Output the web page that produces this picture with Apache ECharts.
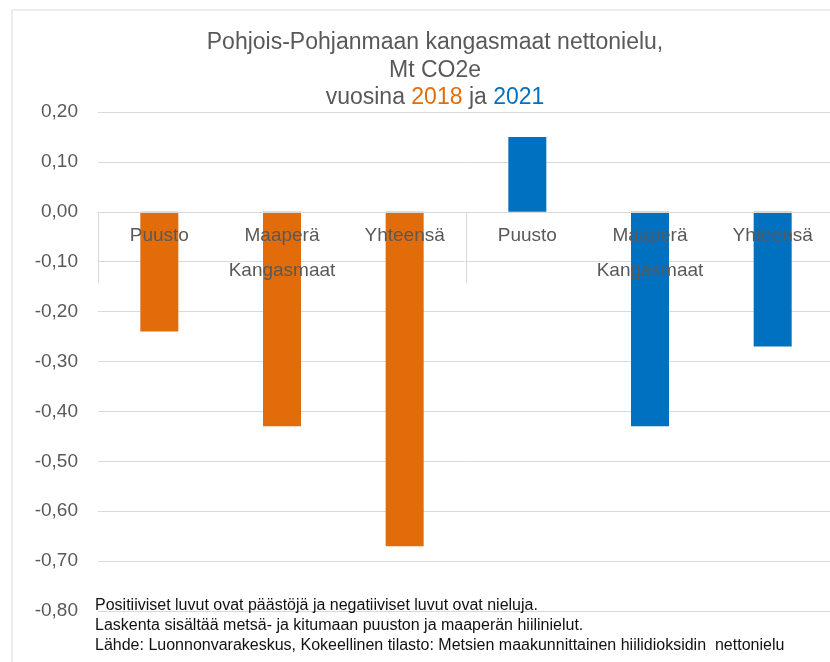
<!DOCTYPE html>
<html>
<head>
    <meta charset="UTF-8">
    <title>Pohjois-Pohjanmaan kangasmaat nettonielu</title>
    <script src="https://cdn.jsdelivr.net/npm/echarts@6/dist/echarts.min.js"></script>
    <style>
        html, body { margin: 0; padding: 0; background: #fff; }
        #main { width: 830px; height: 662px; }
    </style>
</head>
<body>
<div id="main"></div>
<script>
    // kategoriat ja arvot (Mt CO2e)
    var categories = ['Puusto', 'Maaperä', 'Yhteensä', 'Puusto', 'Maaperä', 'Yhteensä'];
    var groups = ['Kangasmaat', 'Kangasmaat'];
    var values2018 = [-0.24, -0.43, -0.67, null, null, null];
    var values2021 = [null, null, null, 0.15, -0.43, -0.27];
    var notes = [
        'Positiiviset luvut ovat päästöjä ja negatiiviset luvut ovat nieluja.',
        'Laskenta sisältää metsä- ja kitumaan puuston ja maaperän hiilinielut.',
        'Lähde: Luonnonvarakeskus, Kokeellinen tilasto: Metsien maakunnittainen hiilidioksidin  nettonielu'
    ];

    var font = 'Liberation Sans';
    var grey = '#595959';
    var zeroOffset = -399; // nollaviivan kohta suhteessa kuva-alan alareunaan

    var chart = echarts.init(document.getElementById('main'));
    chart.setOption({
        animation: false,
        textStyle: { fontFamily: font },
        title: [{
            text: 'Pohjois-Pohjanmaan kangasmaat nettonielu,\nMt CO2e\n{n|vuosina }{a|2018}{n| ja }{b|2021}',
            left: 430,
            textAlign: 'center',
            top: 24,
            textStyle: {
                fontFamily: font, fontSize: 23, fontWeight: 'normal', color: grey, lineHeight: 27.5,
                rich: {
                    n: { fontFamily: font, fontSize: 23, color: grey, lineHeight: 27.5 },
                    a: { fontFamily: font, fontSize: 23, color: '#E36C0A', lineHeight: 27.5 },
                    b: { fontFamily: font, fontSize: 23, color: '#0070C0', lineHeight: 27.5 }
                }
            }
        }, {
            text: notes.join('\n'),
            left: 90,
            top: 591,
            textStyle: { fontFamily: font, fontSize: 16, fontWeight: 'normal', color: '#111', lineHeight: 20 }
        }],
        graphic: [{
            type: 'rect',
            shape: { x: 12, y: 10, width: 900, height: 700 },
            style: { fill: 'none', stroke: '#d9d9d9', lineWidth: 1 },
            silent: true
        }],
        grid: { left: 98, top: 112, width: 736, height: 499, outerBoundsMode: 'none', containLabel: false },
        xAxis: [{
            type: 'category',
            data: categories,
            z: 10,
            offset: zeroOffset,
            axisLine: { onZero: false, lineStyle: { color: '#d9d9d9' } },
            axisTick: { show: false },
            axisLabel: { margin: 14, fontSize: 19, color: grey, fontFamily: font }
        }, {
            type: 'category',
            data: groups,
            position: 'bottom',
            z: 10,
            offset: zeroOffset,
            axisLine: { onZero: false, show: false },
            axisTick: { show: true, length: 71, lineStyle: { color: '#d9d9d9' } },
            axisLabel: { margin: 49, fontSize: 19, color: grey, fontFamily: font }
        }],
        yAxis: {
            type: 'value',
            min: -0.8,
            max: 0.2,
            interval: 0.1,
            axisLine: { show: false },
            axisTick: { show: false },
            splitLine: { lineStyle: { color: '#d9d9d9' } },
            axisLabel: {
                margin: 20, fontSize: 19, color: grey, fontFamily: font,
                formatter: function (v) {
                    if (Math.abs(v) < 1e-9) v = 0;
                    return v.toFixed(2).replace('.', ',');
                }
            }
        },
        series: [{
            name: '2018',
            type: 'bar',
            data: values2018,
            barWidth: 38,
            barGap: '-100%',
            itemStyle: { color: '#E36C0A' }
        }, {
            name: '2021',
            type: 'bar',
            data: values2021,
            barWidth: 38,
            barGap: '-100%',
            itemStyle: { color: '#0070C0' }
        }]
    });
</script>
</body>
</html>
